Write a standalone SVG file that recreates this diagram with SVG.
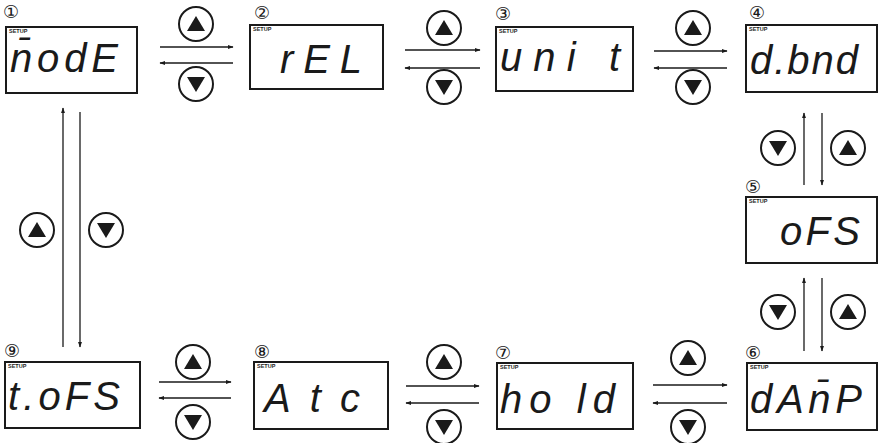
<svg xmlns="http://www.w3.org/2000/svg" width="878" height="443" viewBox="0 0 878 443">
<defs>
<style>
.box{fill:#fff;stroke:#1a1a1a;stroke-width:2}
.setup{font-family:"Liberation Sans",Arial,sans-serif;font-size:5.5px;font-weight:bold;fill:#1a1a1a}
.disp{font-family:"Liberation Sans",Arial,sans-serif;font-size:40px;font-style:italic;fill:#1a1a1a}
.num{font-family:"DejaVu Sans","Noto Sans CJK JP",sans-serif;font-size:18px;fill:#1a1a1a;text-anchor:middle}
.ln{stroke:#1a1a1a;stroke-width:1.3;fill:none}
.btn{fill:#fff;stroke:#1a1a1a;stroke-width:2}
.tri{fill:#1a1a1a}
</style>
<marker id="ah" viewBox="0 0 10 10" refX="9" refY="5" markerWidth="6" markerHeight="6" orient="auto" markerUnits="userSpaceOnUse">
<path d="M0,1.5 L10,5 L0,8.5 z" fill="#1a1a1a"/>
</marker>
<symbol id="up" viewBox="-18 -18 36 36" overflow="visible">
<circle class="btn" r="17"/>
<path class="tri" d="M0,-8 L9,7 L-9,7 z"/>
</symbol>
<symbol id="dn" viewBox="-18 -18 36 36" overflow="visible">
<circle class="btn" r="17"/>
<path class="tri" d="M0,8 L9,-7 L-9,-7 z"/>
</symbol>
</defs>
<rect width="878" height="443" fill="#fff"/>

<g id="connectors">
<!-- 1-2 -->
<line class="ln" x1="160" y1="47" x2="233" y2="47" marker-end="url(#ah)"/>
<line class="ln" x1="233" y1="63" x2="160" y2="63" marker-end="url(#ah)"/>
<use href="#up" x="178" y="6" width="36" height="36"/>
<use href="#dn" x="178" y="66" width="36" height="36"/>
<!-- 2-3 -->
<line class="ln" x1="405" y1="50" x2="480" y2="50" marker-end="url(#ah)"/>
<line class="ln" x1="480" y1="68" x2="405" y2="68" marker-end="url(#ah)"/>
<use href="#up" x="426" y="10" width="36" height="36"/>
<use href="#dn" x="426" y="69" width="36" height="36"/>
<!-- 3-4 -->
<line class="ln" x1="654" y1="51" x2="727" y2="51" marker-end="url(#ah)"/>
<line class="ln" x1="727" y1="68" x2="654" y2="68" marker-end="url(#ah)"/>
<use href="#up" x="675" y="10" width="36" height="36"/>
<use href="#dn" x="675" y="69" width="36" height="36"/>
<!-- 4-5 -->
<line class="ln" x1="804" y1="185" x2="804" y2="113" marker-end="url(#ah)"/>
<line class="ln" x1="822" y1="113" x2="822" y2="185" marker-end="url(#ah)"/>
<use href="#dn" x="760" y="130" width="36" height="36"/>
<use href="#up" x="830" y="130" width="36" height="36"/>
<!-- 5-6 -->
<line class="ln" x1="804" y1="351" x2="804" y2="278" marker-end="url(#ah)"/>
<line class="ln" x1="822" y1="278" x2="822" y2="351" marker-end="url(#ah)"/>
<use href="#dn" x="760" y="294" width="36" height="36"/>
<use href="#up" x="830" y="294" width="36" height="36"/>
<!-- 7-6 -->
<line class="ln" x1="653" y1="385" x2="727" y2="385" marker-end="url(#ah)"/>
<line class="ln" x1="727" y1="403" x2="653" y2="403" marker-end="url(#ah)"/>
<use href="#up" x="670" y="340" width="36" height="36"/>
<use href="#dn" x="670" y="409" width="36" height="36"/>
<!-- 8-7 -->
<line class="ln" x1="406" y1="386" x2="479" y2="386" marker-end="url(#ah)"/>
<line class="ln" x1="479" y1="403" x2="406" y2="403" marker-end="url(#ah)"/>
<use href="#up" x="426" y="344" width="36" height="36"/>
<use href="#dn" x="426" y="409" width="36" height="36"/>
<!-- 9-8 -->
<line class="ln" x1="159" y1="382" x2="231" y2="382" marker-end="url(#ah)"/>
<line class="ln" x1="231" y1="398" x2="159" y2="398" marker-end="url(#ah)"/>
<use href="#up" x="175" y="344" width="36" height="36"/>
<use href="#dn" x="175" y="404" width="36" height="36"/>
<!-- 9-1 -->
<line class="ln" x1="63" y1="347" x2="63" y2="108" marker-end="url(#ah)"/>
<line class="ln" x1="80" y1="112" x2="80" y2="347" marker-end="url(#ah)"/>
<use href="#up" x="19" y="212" width="36" height="36"/>
<use href="#dn" x="88" y="212" width="36" height="36"/>
</g>

<g id="node1">
<text class="num" x="11" y="18">①</text>
<rect class="box" x="6" y="27" width="131" height="66"/>
<text class="setup" x="9" y="32.5">SETUP</text>
<text class="disp" x="10" y="71.5" textLength="108" lengthAdjust="spacing">n̄odE</text>
</g>
<g id="node2">
<text class="num" x="262" y="19">②</text>
<rect class="box" x="250" y="25" width="133" height="64"/>
<text class="setup" x="253" y="31">SETUP</text>
<text class="disp" x="280" y="73" textLength="82" lengthAdjust="spacing">rEL</text>
</g>
<g id="node3">
<text class="num" x="503" y="20">③</text>
<rect class="box" x="496" y="27" width="137" height="64"/>
<text class="setup" x="499" y="33">SETUP</text>
<text class="disp" x="500" y="71" textLength="120" lengthAdjust="spacing">uni t</text>
</g>
<g id="node4">
<text class="num" x="757" y="19">④</text>
<rect class="box" x="746" y="25" width="131" height="67"/>
<text class="setup" x="749" y="31">SETUP</text>
<text class="disp" x="750" y="74" textLength="108" lengthAdjust="spacing">d.bnd</text>
</g>
<g id="node5">
<text class="num" x="753" y="193">⑤</text>
<rect class="box" x="746" y="197" width="131" height="66"/>
<text class="setup" x="749" y="203">SETUP</text>
<text class="disp" x="780" y="245" textLength="80" lengthAdjust="spacing">oFS</text>
</g>
<g id="node6">
<text class="num" x="753" y="359">⑥</text>
<rect class="box" x="747" y="363" width="130" height="67"/>
<text class="setup" x="750" y="369">SETUP</text>
<text class="disp" x="750" y="413" textLength="112" lengthAdjust="spacing">dAn̄P</text>
</g>
<g id="node7">
<text class="num" x="503" y="359">⑦</text>
<rect class="box" x="497" y="363" width="136" height="66"/>
<text class="setup" x="500" y="369">SETUP</text>
<text class="disp" x="500" y="413" textLength="115" lengthAdjust="spacing">ho ld</text>
</g>
<g id="node8">
<text class="num" x="262" y="358">⑧</text>
<rect class="box" x="254" y="362" width="134" height="67"/>
<text class="setup" x="257" y="368">SETUP</text>
<text class="disp" x="264" y="412" textLength="96" lengthAdjust="spacing">Atc</text>
</g>
<g id="node9">
<text class="num" x="12" y="357">⑨</text>
<rect class="box" x="5" y="362" width="135" height="66"/>
<text class="setup" x="8" y="368">SETUP</text>
<text class="disp" x="8" y="410" textLength="112" lengthAdjust="spacing">t.oFS</text>
</g>
</svg>
